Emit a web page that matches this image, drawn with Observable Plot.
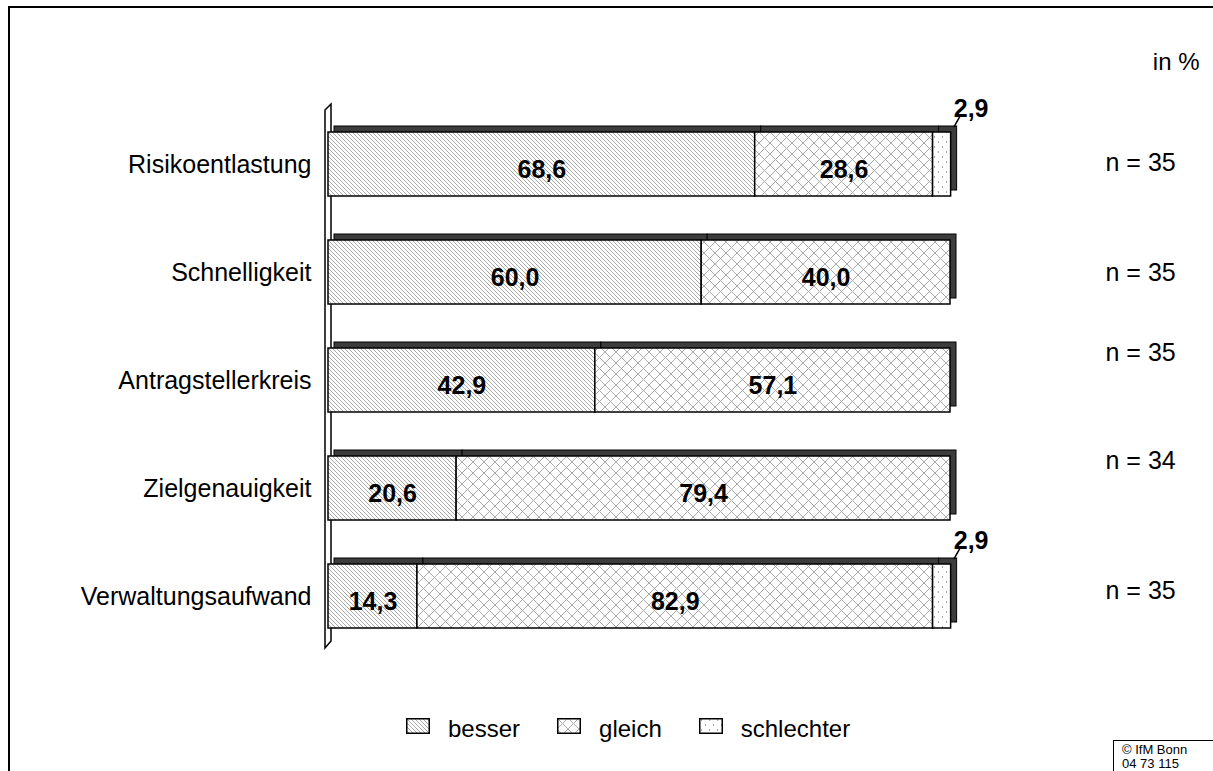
<!DOCTYPE html>
<html>
<head>
<meta charset="utf-8">
<script src="https://cdn.jsdelivr.net/npm/d3@7"></script>
<script src="https://cdn.jsdelivr.net/npm/@observablehq/plot@0.6"></script>
<style>
  html, body { margin: 0; padding: 0; background: #fff; overflow: hidden; }
  body { width: 1213px; height: 771px; position: relative; font-family: "Liberation Sans", Arial, sans-serif; color: #000; }
  #frame { position: absolute; left: 8px; top: 6px; width: 1300px; height: 900px; border: 2px solid #000; }
  #chart { position: absolute; left: 0; top: 0; }
  #legend { position: absolute; left: 406px; top: 712px; height: 34px; display: flex; align-items: center; font-size: 24px; }
  #legend .item { display: flex; align-items: center; margin-right: 37px; }
  #legend svg { margin-right: 18px; position: relative; top: -3px; }
  #copy { position: absolute; left: 1113px; top: 740px; width: 110px; height: 60px; border: 1px solid #000; font-size: 13px; line-height: 14px; padding: 2px 0 0 8px; box-sizing: border-box; background: #fff; }
</style>
</head>
<body>
<div id="frame"></div>
<div id="chart"></div>
<div id="legend"></div>
<div id="copy">© IfM Bonn<br>04 73 115</div>
<script>
// ---- data ----
const categories = ["Risikoentlastung", "Schnelligkeit", "Antragstellerkreis", "Zielgenauigkeit", "Verwaltungsaufwand"];
const series = ["besser", "gleich", "schlechter"];
const besser = [68.6, 60.0, 42.9, 20.6, 14.3];
const gleich = [28.6, 40.0, 57.1, 79.4, 82.9];
const schlechter = [2.9, 0, 0, 0, 2.9];
const nValues = [35, 35, 35, 34, 35];
const unitLabel = "in %";

// ---- derived table ----
const seriesValues = { besser, gleich, schlechter };
const rows = [];
categories.forEach((c, i) => {
  series.forEach(s => rows.push({ category: c, series: s, value: seriesValues[s][i] }));
});
const data = rows.filter(d => d.value > 0);
const totals = new Map(categories.map((c, i) => [c, besser[i] + gleich[i] + schlechter[i]]));
const fmt = v => v.toFixed(1).replace(".", ",");
const insideData = data.filter(d => d.value >= 5);
const smallData = data.filter(d => d.value < 5);
const nTable = categories.map((c, i) => ({ category: c, n: nValues[i] }));
const nShift = [-2, 0, -28, -28, -6];

const patternIds = { besser: "pat-besser", gleich: "pat-gleich", schlechter: "pat-schlechter" };

// wall (3D axis plane) as a function mark
function wall(index, scales, values, dims) {
  const x0 = scales.x(0);
  const top = dims.marginTop + 16;
  const bottom = dims.height - dims.marginBottom - 24;
  const g = d3.create("svg:g");
  g.append("polygon")
    .attr("points", [[x0 - 3, top + 6], [x0 + 3, top], [x0 + 3, bottom - 7], [x0 - 3, bottom]].map(p => p.join(",")).join(" "))
    .attr("fill", "#fff").attr("stroke", "#000").attr("stroke-width", 1.5);
  return g.node();
}

const leaderShape = { draw(ctx, l) { ctx.moveTo(0, 0); ctx.lineTo(0, -l); } };

const chart = Plot.plot({
  width: 1213,
  height: 700,
  marginLeft: 328,
  marginRight: 263,
  marginTop: 88,
  marginBottom: 28,
  x: { domain: [0, 100], axis: null },
  y: { domain: categories, padding: 0.407, axis: null },
  color: { type: "ordinal", domain: series, range: series.map(s => `url(#${patternIds[s]})`) },
  style: { fontFamily: "'Liberation Sans', Arial, sans-serif", fontSize: "24px", color: "#000", background: "transparent", overflow: "visible" },
  marks: [
    wall,
    Plot.barX(data, Plot.stackX({ x: "value", y: "category", dx: 6, dy: -6, fill: "#3c3c3c", stroke: "#000", strokeWidth: 1 })),
    Plot.barX(data, Plot.stackX({ x: "value", y: "category", fill: "series", stroke: "#000", strokeWidth: 1.5 })),
    Plot.axisY({ tickSize: 0, tickPadding: 17, fontSize: 25, label: null }),
    Plot.text(insideData, Plot.stackX({ x: "value", y: "category", z: "series", text: d => fmt(d.value), fontWeight: "bold", fontSize: 25, dy: 5 })),
    Plot.vector(smallData, { x: d => totals.get(d.category), y: "category", length: 13, rotate: 30, anchor: "start", dx: 3, dy: -38, stroke: "#000", strokeWidth: 1.5, shape: leaderShape }),
    Plot.text(smallData, { x: d => totals.get(d.category), y: "category", text: d => fmt(d.value), fontWeight: "bold", fontSize: 25, dx: 20, dy: -56 }),
    ...nTable.map((d, i) => Plot.text([d], { y: "category", text: r => `n = ${r.n}`, frameAnchor: "right", textAnchor: "start", dx: 155, dy: nShift[i], fontSize: 25 })),
    Plot.text([unitLabel], { frameAnchor: "top-right", text: d => d, textAnchor: "end", dx: 249, dy: -36, fontSize: 24 })
  ]
});

// pattern definitions
const defs = d3.create("svg:defs");
const pb = defs.append("pattern").attr("id", patternIds.besser).attr("patternUnits", "userSpaceOnUse").attr("width", 4).attr("height", 4);
pb.append("rect").attr("width", 4).attr("height", 4).attr("fill", "#fff");
pb.append("path").attr("d", "M-1,-1 L5,5 M-1,3 L1,5 M3,-1 L5,1").attr("stroke", "#a6a6a6").attr("stroke-width", 1);
const pg = defs.append("pattern").attr("id", patternIds.gleich).attr("patternUnits", "userSpaceOnUse").attr("width", 11).attr("height", 11);
pg.append("rect").attr("width", 11).attr("height", 11).attr("fill", "#fff");
pg.append("path").attr("d", "M0,0 L11,11 M11,0 L0,11").attr("stroke", "#ababab").attr("stroke-width", 1);
const ps = defs.append("pattern").attr("id", patternIds.schlechter).attr("patternUnits", "userSpaceOnUse").attr("width", 8).attr("height", 10);
ps.append("rect").attr("width", 8).attr("height", 10).attr("fill", "#fff");
ps.append("rect").attr("x", 2).attr("y", 1).attr("width", 1).attr("height", 2).attr("fill", "#a6a6a6");
ps.append("rect").attr("x", 6).attr("y", 6).attr("width", 1).attr("height", 2).attr("fill", "#a6a6a6");
chart.insertBefore(defs.node(), chart.firstChild);

document.getElementById("chart").appendChild(chart);

// legend
const legend = d3.select("#legend");
series.forEach(s => {
  const item = legend.append("div").attr("class", "item");
  const sw = item.append("svg").attr("width", 24).attr("height", 16);
  sw.append("rect").attr("x", 0.75).attr("y", 0.75).attr("width", 22.5).attr("height", 14.5)
    .attr("fill", `url(#${patternIds[s]})`).attr("stroke", "#000").attr("stroke-width", 1.5);
  item.append("span").text(s);
});
</script>
</body>
</html>
